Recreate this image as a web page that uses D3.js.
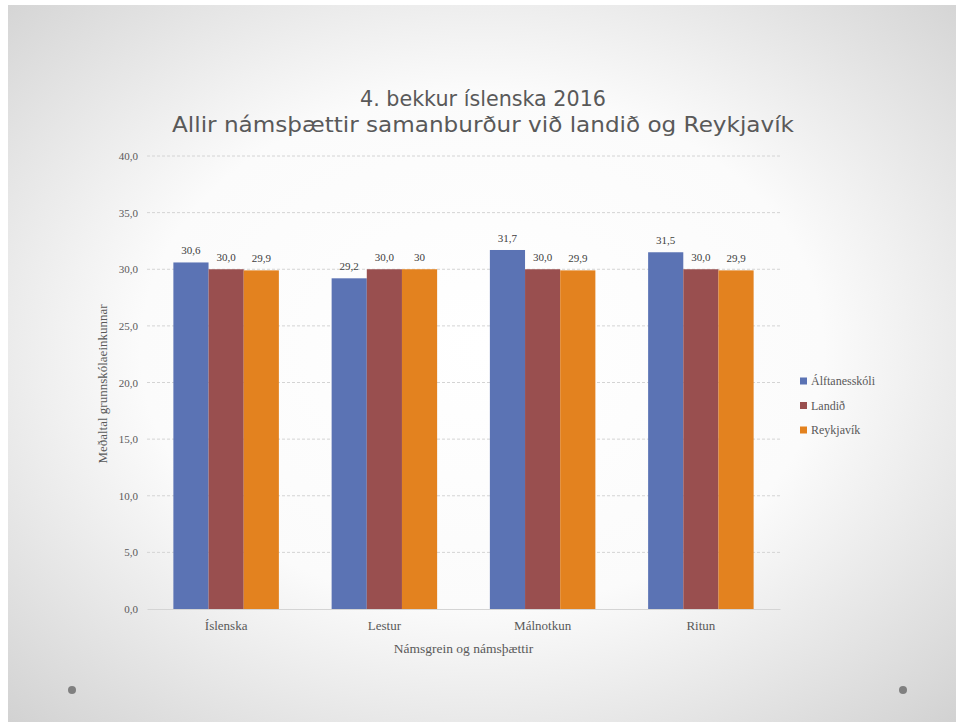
<!DOCTYPE html>
<html>
<head>
<meta charset="utf-8">
<script src="https://cdn.jsdelivr.net/npm/d3@7"></script>
<style>
  html, body { margin: 0; padding: 0; background: #ffffff; }
  #chart { width: 956px; height: 722px; }
</style>
</head>
<body>
<div id="chart"></div>
<script>
// Chart data
const categories = ['Íslenska', 'Lestur', 'Málnotkun', 'Ritun'];
const seriesNames = ['Álftanesskóli', 'Landið', 'Reykjavík'];
const alftanesValues = [30.6, 29.2, 31.7, 31.5];
const landidValues = [30.0, 30.0, 30.0, 30.0];
const reykjavikValues = [29.9, 30.0, 29.9, 29.9];
const reykjavikLabels = ['29,9', '30', '29,9', '29,9'];
const yTicks = [0, 5, 10, 15, 20, 25, 30, 35, 40];
const colors = ['#5b73b4', '#994f4f', '#e3821f'];

const titleLines = ['4. bekkur íslenska 2016', 'Allir námsþættir samanburður við landið og Reykjavík'];
const xTitle = 'Námsgrein og námsþættir';
const yTitle = 'Meðaltal grunnskólaeinkunnar';

// Icelandic number format (comma decimal)
const is = d3.formatLocale({ decimal: ',', thousands: '.', grouping: [3], currency: ['', ' kr.'] });
const fmt = is.format('.1f');

const series = [
  { name: seriesNames[0], values: alftanesValues, labels: alftanesValues.map(fmt) },
  { name: seriesNames[1], values: landidValues, labels: landidValues.map(fmt) },
  { name: seriesNames[2], values: reykjavikValues, labels: reykjavikLabels },
];

const W = 956, H = 722;
const plot = { left: 147, right: 780, top: 156, bottom: 609 };

const svg = d3.select('#chart').append('svg')
  .attr('width', W)
  .attr('height', H);

// Slide background
const defs = svg.append('defs');
const grad = defs.append('radialGradient')
  .attr('id', 'bg')
  .attr('cx', '50%').attr('cy', '48%').attr('r', '72%');
grad.append('stop').attr('offset', '0%').attr('stop-color', '#ffffff');
grad.append('stop').attr('offset', '50%').attr('stop-color', '#fbfbfb');
grad.append('stop').attr('offset', '100%').attr('stop-color', '#d2d2d2');

svg.append('rect')
  .attr('x', 8).attr('y', 5)
  .attr('width', W - 8).attr('height', H - 5)
  .attr('fill', 'url(#bg)');

// Decorative slide dots
svg.append('circle').attr('cx', 72).attr('cy', 690).attr('r', 4).attr('fill', '#808080');
svg.append('circle').attr('cx', 903).attr('cy', 690).attr('r', 4).attr('fill', '#808080');

// Title
const title = svg.append('g')
  .attr('fill', '#595959')
  .style('font-family', '"DejaVu Sans", sans-serif')
  .style('font-size', '21px')
  .attr('text-anchor', 'middle');
title.append('text')
  .attr('x', 483).attr('y', 106)
  .attr('textLength', 246).attr('lengthAdjust', 'spacingAndGlyphs')
  .text(titleLines[0]);
title.append('text')
  .attr('x', 483).attr('y', 132)
  .attr('textLength', 622).attr('lengthAdjust', 'spacingAndGlyphs')
  .text(titleLines[1]);

// Scales
const x0 = d3.scaleBand()
  .domain(categories)
  .range([plot.left, plot.right])
  .paddingInner(1.5 / 4.5)
  .paddingOuter(0.75 / 4.5);

const x1 = d3.scaleBand()
  .domain(seriesNames)
  .range([0, x0.bandwidth()]);

const y = d3.scaleLinear()
  .domain([0, 40])
  .range([plot.bottom, plot.top]);

const serif = '"Liberation Serif", "DejaVu Serif", serif';

// Gridlines
svg.append('g')
  .selectAll('line')
  .data(yTicks.filter((d) => d > 0))
  .join('line')
  .attr('x1', plot.left).attr('x2', plot.right)
  .attr('y1', (d) => y(d)).attr('y2', (d) => y(d))
  .attr('stroke', '#d4d4d4')
  .attr('stroke-width', 1)
  .attr('stroke-dasharray', '3,2');

// Y axis
const yAxis = svg.append('g')
  .attr('transform', 'translate(' + plot.left + ',0)')
  .call(d3.axisLeft(y).tickValues(yTicks).tickFormat(fmt).tickSize(0).tickPadding(9));
yAxis.select('.domain').remove();
yAxis.selectAll('text')
  .attr('fill', '#595959')
  .style('font-family', serif)
  .style('font-size', '11px');

// Bars
const groups = svg.append('g')
  .selectAll('g')
  .data(series)
  .join('g')
  .attr('fill', (d, i) => colors[i]);

groups.selectAll('rect')
  .data((s) => s.values.map((v, i) => ({ s: s.name, cat: categories[i], v: v, label: s.labels[i] })))
  .join('rect')
  .attr('x', (d) => x0(d.cat) + x1(d.s))
  .attr('y', (d) => y(d.v))
  .attr('width', x1.bandwidth())
  .attr('height', (d) => y(0) - y(d.v));

// Data labels
groups.selectAll('text')
  .data((s) => s.values.map((v, i) => ({ s: s.name, cat: categories[i], v: v, label: s.labels[i] })))
  .join('text')
  .attr('x', (d) => x0(d.cat) + x1(d.s) + x1.bandwidth() / 2)
  .attr('y', (d) => y(d.v) - 8)
  .attr('text-anchor', 'middle')
  .attr('fill', '#404040')
  .style('font-family', serif)
  .style('font-size', '11px')
  .text((d) => d.label);

// X axis
const xAxis = svg.append('g')
  .attr('transform', 'translate(0,' + plot.bottom + ')')
  .call(d3.axisBottom(x0).tickSize(0).tickPadding(12));
xAxis.select('.domain').attr('stroke', '#d4d4d4');
xAxis.selectAll('text')
  .attr('fill', '#595959')
  .style('font-family', serif)
  .style('font-size', '13px');

// Axis titles
svg.append('text')
  .attr('x', (plot.left + plot.right) / 2)
  .attr('y', 653)
  .attr('text-anchor', 'middle')
  .attr('fill', '#595959')
  .style('font-family', serif)
  .style('font-size', '13.5px')
  .text(xTitle);

svg.append('text')
  .attr('transform', 'translate(107,' + 384 + ') rotate(-90)')
  .attr('text-anchor', 'middle')
  .attr('fill', '#595959')
  .style('font-family', serif)
  .style('font-size', '13px')
  .text(yTitle);

// Legend
const legend = svg.append('g')
  .selectAll('g')
  .data(seriesNames)
  .join('g')
  .attr('transform', (d, i) => 'translate(800,' + (381 + i * 24.5) + ')');
legend.append('rect')
  .attr('x', 0).attr('y', -3.5)
  .attr('width', 7).attr('height', 7)
  .attr('fill', (d, i) => colors[i]);
legend.append('text')
  .attr('x', 11).attr('y', 0)
  .attr('dy', '0.35em')
  .attr('fill', '#595959')
  .style('font-family', serif)
  .style('font-size', '12px')
  .text((d) => d);
</script>
</body>
</html>
